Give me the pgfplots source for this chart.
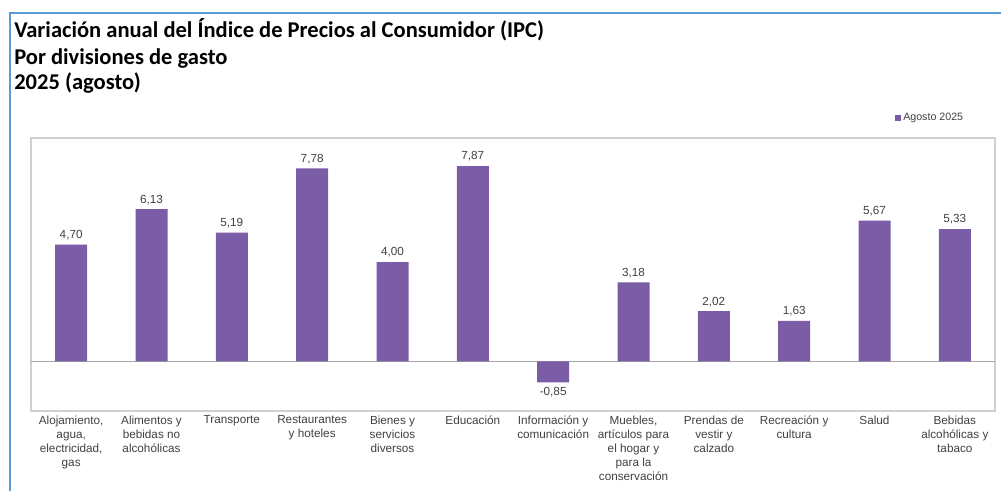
\documentclass[border=0pt]{standalone}
\usepackage{fontspec}
\setmainfont{Liberation Sans}
\newfontfamily\titlefont{Carlito}
\usepackage{pgfplots}
\pgfplotsset{compat=1.18}
\definecolor{barpurple}{HTML}{7B5CA6}
\definecolor{frameblue}{HTML}{5B9BD5}
\definecolor{labgray}{HTML}{404040}
\definecolor{boxgray}{HTML}{D0D0D0}
\definecolor{zerogray}{HTML}{A6A6A6}
\begin{document}
\begin{tikzpicture}[x=0.75pt,y=0.75pt]
\path[use as bounding box] (0,0) rectangle (1001,491);
\draw[frameblue, line width=1.5pt] (10,0) -- (10,478) -- (1001,478);
\node[anchor=base west, inner sep=0, font=\titlefont\bfseries\fontsize{16.9}{20}\selectfont] at (14,453) {Variación anual del Índice de Precios al Consumidor (IPC)};
\node[anchor=base west, inner sep=0, font=\titlefont\bfseries\fontsize{16.9}{20}\selectfont] at (14,426) {Por divisiones de gasto};
\node[anchor=base west, inner sep=0, font=\titlefont\bfseries\fontsize{16.9}{20}\selectfont] at (14,401) {2025 (agosto)};
\begin{axis}[
  at={(23.25pt,60pt)}, anchor=south west,
  scale only axis, width=723pt, height=204.75pt,
  xmin=-0.5, xmax=11.5, ymin=-2, ymax=9,
  ybar, bar width=24pt,
  ytick=\empty,
  xtick={0,...,11},
  major tick length=0pt,
  xticklabels={{Alojamiento,\\agua,\\electricidad,\\gas},{Alimentos y\\bebidas no\\alcohólicas},{Transporte},{Restaurantes\\y hoteles},{Bienes y\\servicios\\diversos},{Educación},{Información y\\comunicación},{Muebles,\\artículos para\\el hogar y\\para la\\conservación},{Prendas de\\vestir y\\calzado},{Recreación y\\cultura},{Salud},{Bebidas\\alcohólicas y\\tabaco}},
  xticklabel style={font=\fontsize{8.8}{10.6}\selectfont, align=center, text=labgray},
  axis line style={boxgray, line width=1pt},
  extra y ticks={0}, extra y tick labels={},
  extra y tick style={grid=major, major grid style={zerogray, line width=1pt}, major tick length=0pt},
  /pgf/number format/assume math mode=true,
  nodes near coords,
  nodes near coords style={font=\fontsize{8.8}{10.6}\selectfont, text=labgray, /pgf/number format/.cd, fixed, fixed zerofill, precision=2, use comma},
  legend style={draw=none, fill=none, at={(0.97,1.073)}, anchor=east, font=\fontsize{8}{9}\selectfont, text=labgray, inner sep=0pt},
  legend image code/.code={\fill[#1] (0pt,-2pt) rectangle (4pt,2pt);},
]
\addplot[fill=barpurple, draw=none] coordinates {
(0,4.70) (1,6.13) (2,5.19) (3,7.78) (4,4.00) (5,7.87) (6,-0.85) (7,3.18) (8,2.02) (9,1.63) (10,5.67) (11,5.33)};
\addlegendentry{Agosto 2025}
\end{axis}
\end{tikzpicture}
\end{document}
